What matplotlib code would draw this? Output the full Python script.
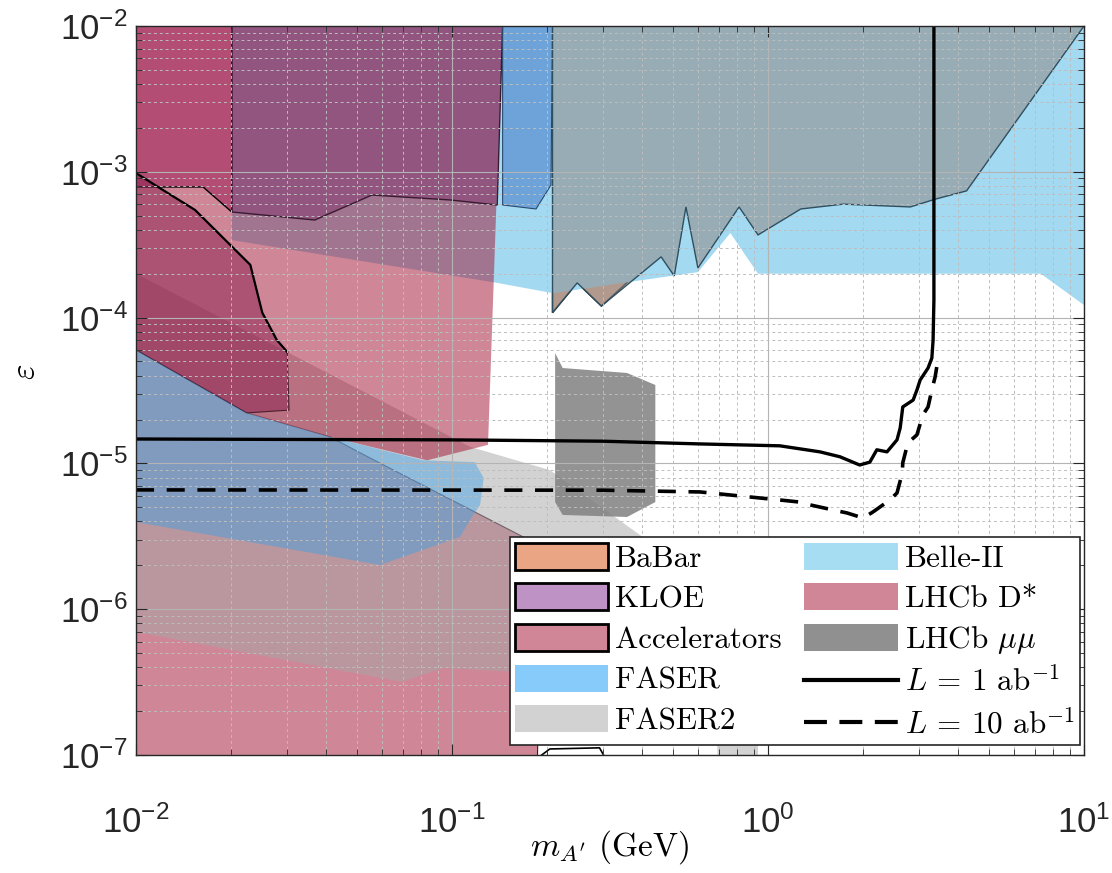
import math
import matplotlib
matplotlib.use('Agg')
import matplotlib.pyplot as plt
from matplotlib.colors import to_rgba
from matplotlib.patches import Patch
from matplotlib.lines import Line2D
from matplotlib.ticker import LogLocator, FuncFormatter, NullFormatter

plt.rcParams['font.family'] = 'Liberation Sans'
plt.rcParams['mathtext.fontset'] = 'custom'
plt.rcParams['mathtext.rm'] = 'Liberation Sans'
plt.rcParams['mathtext.it'] = 'Liberation Sans:italic'

# ------------------------------------------
# DATA (mass in GeV, epsilon)
# ------------------------------------------

babar_x = [0.208, 0.208, 0.249, 0.297, 0.36, 0.5, 1.0, 10, 10]
babar_y = [1e-2, 1.08e-4, 1.73e-4, 1.2e-4, 1.76e-4, 4e-4, 4e-4, 5e-4, 1e-2]

belle_x = [0.0201, 0.0201, 0.139, 0.209, 0.36, 0.60, 0.76, 0.93, 7.3, 10, 10]
belle_y = [1e-2, 3.4e-4, 1.73e-4, 1.47e-4, 1.75e-4, 2.05e-4, 3.8e-4, 2.0e-4, 2.0e-4, 1.22e-4, 1e-2]

faser2_x = [0.01, 0.114, 0.204, 0.414, 0.6, 0.8, 0.93, 0.93, 0.70, 0.69, 0.6, 0.3, 0.1605, 0.0937, 0.0695, 0.01]
faser2_y = [2.0e-4, 1.3e-5, 9.0e-6, 2.98e-6, 1.6e-6, 6e-7, 1.5e-7, 5e-8, 5e-8, 1.2e-7, 1.4e-7, 2e-7, 3.71e-7, 3.95e-7, 3.17e-7, 6.98e-7]

accb_x = [0.01, 0.01, 0.0224, 0.0411, 0.055, 0.1805, 0.19, 0.183]
accb_y = [1e-8, 6e-5, 2.22e-5, 1.52e-5, 1.09e-5, 2.89e-6, 1e-6, 1e-8]
bump_x = [0.18, 0.204, 0.293, 0.31]
bump_y = [9e-8, 1.1e-7, 1.12e-7, 9e-8]

dstar_x = [0.01, 0.01, 0.0224, 0.0411, 0.0834, 0.130, 0.1446]
dstar_y = [1e-2, 6e-5, 2.22e-5, 1.52e-5, 1.05e-5, 1.34e-5, 1e-2]

acc1_x = [0.01, 0.01, 0.0163, 0.0201, 0.0201]
acc1_y = [1e-2, 7.87e-4, 7.87e-4, 5.3e-4, 1e-2]

accc_x = [0.01, 0.01217, 0.01538, 0.0230, 0.0251, 0.0279, 0.0301, 0.0305, 0.0224, 0.01]
accc_y = [9.8e-4, 7.5e-4, 5.47e-4, 2.30e-4, 1.08e-4, 7.02e-5, 5.81e-5, 2.32e-5, 2.22e-5, 6e-5]

kloe_x = [0.0201, 0.0201, 0.0368, 0.0558, 0.0986, 0.139, 0.1446]
kloe_y = [1e-2, 5.3e-4, 4.67e-4, 6.93e-4, 6.41e-4, 5.92e-4, 1e-2]

faser_x = [0.01, 0.0224, 0.0411, 0.081, 0.118, 0.126, 0.1227, 0.114, 0.106, 0.0592, 0.01]
faser_y = [6e-5, 2.22e-5, 1.52e-5, 1.05e-5, 1.02e-5, 7.94e-6, 5.19e-6, 4.09e-6, 3.13e-6, 2.01e-6, 3.96e-6]

blue_x = [0.1446, 0.1446, 0.1845, 0.2057, 0.208]
blue_y = [1e-2, 5.92e-4, 5.56e-4, 8.12e-4, 1e-2]

mumu_x = [0.208, 0.208, 0.249, 0.297, 0.459, 0.505, 0.55, 0.60, 0.81, 0.93, 1.27, 1.73, 2.82, 3.39, 4.25, 10]
mumu_y = [1e-2, 1.08e-4, 1.73e-4, 1.2e-4, 2.61e-4, 1.93e-4, 5.74e-4, 2.19e-4, 5.74e-4, 3.69e-4, 5.56e-4, 6.0e-4, 5.74e-4, 6.5e-4, 7.4e-4, 1e-2]

mumu2_x = [0.212, 0.224, 0.358, 0.44, 0.44, 0.358, 0.224, 0.212]
mumu2_y = [5.71e-5, 4.51e-5, 4.17e-5, 3.45e-5, 5.43e-6, 4.29e-6, 4.43e-6, 5.43e-6]

l1_x = [0.01, 0.1, 0.3, 0.61, 0.94, 1.09, 1.46, 1.69, 1.95, 2.10, 2.21, 2.38, 2.56, 2.62, 2.67, 2.88,
        2.96, 3.03, 3.21, 3.30, 3.33, 3.35, 3.35]
l1_y = [1.47e-5, 1.45e-5, 1.42e-5, 1.36e-5, 1.33e-5, 1.32e-5, 1.2e-5, 1.11e-5, 9.75e-6, 1.02e-5,
        1.24e-5, 1.2e-5, 1.45e-5, 1.75e-5, 2.44e-5, 2.72e-5, 3.19e-5, 3.73e-5, 4.51e-5, 5.28e-5,
        7.02e-5, 1.32e-4, 1e-2]

l10_x = [0.01, 0.3, 0.61, 1.09, 1.26, 1.36, 1.61, 1.78, 2.00, 2.15, 2.43, 2.56, 2.66, 2.67, 2.77,
         2.96, 3.09, 3.21, 3.30, 3.38, 3.42]
l10_y = [6.58e-6, 6.55e-6, 6.37e-6, 5.61e-6, 5.43e-6, 5.19e-6, 4.79e-6, 4.57e-6, 4.22e-6, 4.65e-6,
         5.61e-6, 6.27e-6, 8.59e-6, 1.01e-5, 1.38e-5, 1.57e-5, 2.15e-5, 2.44e-5, 3.19e-5, 3.92e-5, 4.58e-5]

labels_col1 = ['BaBar', 'KLOE', 'Accelerators', 'FASER', 'FASER2']
labels_col2 = ['Belle-II', 'LHCb D*', r'LHCb $\mu\mu$', r'$L$ = 1 ab$^{-1}$', r'$L$ = 10 ab$^{-1}$']

# ------------------------------------------
# FIGURE
# ------------------------------------------

fig = plt.figure(figsize=(11.12, 8.73), dpi=100)
ax = fig.add_axes([136 / 1112, 1 - 755 / 873, 948 / 1112, 729 / 873])
ax.set_xscale('log')
ax.set_yscale('log')

CRIMSON = '#a11131'


def region(xs, ys, face, alpha, edge='none', lw=0.0):
    ax.fill(xs, ys, facecolor=to_rgba(face, alpha), edgecolor=edge, linewidth=lw, zorder=1)


region(babar_x, babar_y, '#eba584', 1.0, edge='k', lw=1.0)
region(belle_x, belle_y, '#a3d9f1', 1.0)
region(accb_x, accb_y, CRIMSON, 0.5, edge='#3a1a2a', lw=0.8)
region(faser2_x, faser2_y, '#a7a7a7', 0.5)
region(dstar_x, dstar_y, CRIMSON, 0.5)
region(acc1_x, acc1_y, '#9a1450', 0.5, edge='k', lw=1.0)
region(accc_x, accc_y, '#8a2050', 0.5, edge='#4a2030', lw=0.8)
ax.plot(accc_x[:7], accc_y[:7], color='k', lw=1.6, zorder=1.5)
region(kloe_x, kloe_y, '#82386f', 0.5, edge='#3a1a30', lw=1.0)
region(faser_x, faser_y, '#3ca0e6', 0.45)
region(blue_x, blue_y, '#4a7fc8', 0.6, edge='#2a4a70', lw=0.8)
region(mumu_x, mumu_y, '#939393', 0.64, edge='#2f4f5f', lw=1.0)
region(mumu2_x, mumu2_y, '#808080', 0.85)
ax.plot(bump_x, bump_y, color='k', lw=1.2, zorder=1.5)

ax.plot(l1_x, l1_y, color='k', lw=2.4, zorder=4)
ax.plot(l10_x, l10_y, color='k', lw=2.6, ls=(0, (5, 3.5)), zorder=4)

ax.set_xlim(1e-2, 10)
ax.set_ylim(1e-7, 1e-2)

# grid on top, like the original
ax.set_axisbelow(False)
ax.grid(True, which='major', color='#b4b4b4', lw=0.8, ls='-')
ax.grid(True, which='minor', color='#bdbdbd', lw=0.7, ls=(0, (3, 3)))

ax.xaxis.set_major_locator(LogLocator(base=10, numticks=10))
ax.yaxis.set_major_locator(LogLocator(base=10, numticks=10))
ax.xaxis.set_minor_locator(LogLocator(base=10, subs=range(2, 10), numticks=20))
ax.yaxis.set_minor_locator(LogLocator(base=10, subs=range(2, 10), numticks=20))
fmt = FuncFormatter(lambda v, p: r'$10^{%d}$' % round(math.log10(v)))
ax.xaxis.set_major_formatter(fmt)
ax.yaxis.set_major_formatter(fmt)
ax.xaxis.set_minor_formatter(NullFormatter())
ax.yaxis.set_minor_formatter(NullFormatter())

ax.tick_params(which='both', direction='in', top=True, right=True, colors='#262626', labelcolor='#262626')
ax.tick_params(which='major', length=8, width=0.8, labelsize=25)
ax.tick_params(which='minor', length=4, width=0.6)
ax.tick_params(axis='x', which='major', pad=36)
ax.tick_params(axis='y', which='major', pad=6)
for s in ax.spines.values():
    s.set_color('#262626')
    s.set_linewidth(1.0)
    s.set_zorder(5)

xl = ax.set_xlabel(r'$m_{A^\prime}$ (GeV)', fontsize=24, family='cmr10')
xl.set_math_fontfamily('cm')
ax.xaxis.set_label_coords(0.5, -0.1)
yl = ax.set_ylabel(r'$\varepsilon$', fontsize=24)
yl.set_math_fontfamily('cm')
ax.yaxis.set_label_coords(-0.1, 0.525)

# ------------------------------------------
# LEGEND
# ------------------------------------------

handles = [
    Patch(facecolor='#eaa585', edgecolor='k', linewidth=2),
    Patch(facecolor='#bf92c6', edgecolor='k', linewidth=2),
    Patch(facecolor='#d08696', edgecolor='k', linewidth=2),
    Patch(facecolor='#87cbfa', edgecolor='none'),
    Patch(facecolor='#d2d2d2', edgecolor='none'),
    Patch(facecolor='#a6ddf2', edgecolor='none'),
    Patch(facecolor='#d08696', edgecolor='none'),
    Patch(facecolor='#909090', edgecolor='none'),
    Line2D([], [], color='k', lw=3),
    Line2D([], [], color='k', lw=3, ls=(0, (5.5, 3))),
]
leg = ax.legend(handles, labels_col1 + labels_col2, ncol=2, loc='lower right',
                bbox_to_anchor=(0.9958, 0.0137), borderaxespad=0,
                prop={'family': 'cmr10', 'size': 22.4}, fancybox=False,
                edgecolor='#262626', framealpha=1, handlelength=3.0, handleheight=0.95,
                handletextpad=0.23, labelspacing=0.34, columnspacing=0.72, borderpad=0.17)
leg.get_frame().set_linewidth(1.2)
leg.set_zorder(6)
for t in leg.get_texts():
    t.set_math_fontfamily('cm')

fig.savefig('out.png', dpi=100)
